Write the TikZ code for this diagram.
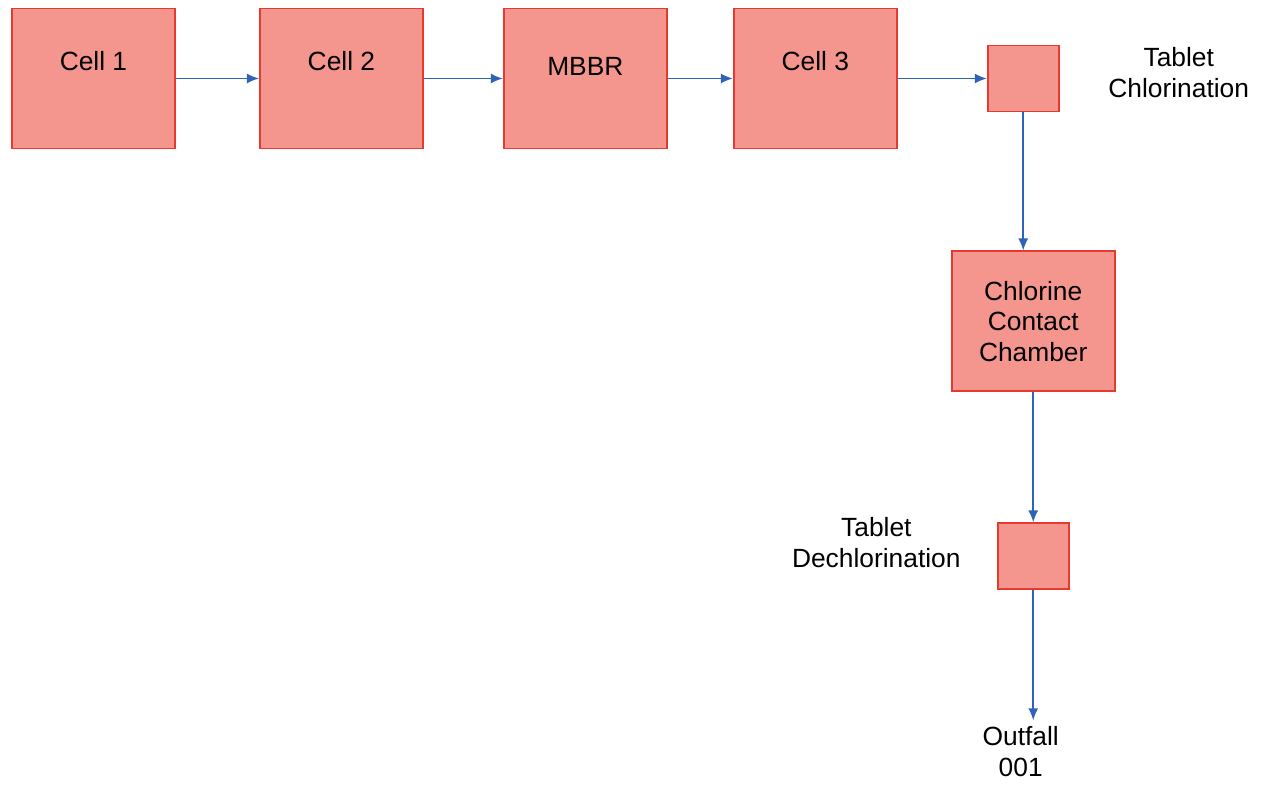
\documentclass[tikz,border=0pt]{standalone}
\usepackage{fontspec}
\setmainfont{Liberation Sans}
\usetikzlibrary{positioning,arrows.meta}
\definecolor{boxfill}{RGB}{245,150,142}
\definecolor{boxline}{RGB}{230,58,48}
\definecolor{flowblue}{RGB}{47,99,184}

\begin{document}
\begin{tikzpicture}[every node/.style={font=\fontsize{15}{17.5}\selectfont, align=center},
			unit/.style={draw=boxline, fill=boxfill, line width=1.1pt, minimum width=3.26cm, minimum height=2.8cm},
			cell/.style={unit, text height=0.38cm, text depth=0.7cm},
			tablet/.style={draw=boxline, fill=boxfill, line width=1.1pt, minimum width=1.42cm, minimum height=1.32cm},
			flow/.style={->, >={Latex[length=2.4mm,width=2mm]}, draw=flowblue, line width=0.9pt}]
			\useasboundingbox (0,0) rectangle (25.36,-15.74);
			\node [cell] (cell1) at (1.87,-1.57) {Cell 1};
			\node [cell, right=1.66cm of cell1] (cell2) {Cell 2};
			\node [cell, right=1.58cm of cell2, text depth=0.5cm] (mbbr) {MBBR};
			\node [cell, right=1.3cm of mbbr] (cell3) {Cell 3};
			\node [tablet, right=1.78cm of cell3] (tab1) {};
			\node [right=0.85cm of tab1, yshift=0.12cm] (chlor) {Tablet \\ Chlorination};
			\node [unit, below=2.76cm of tab1, xshift=0.2cm] (ccc) {Chlorine \\ Contact \\ Chamber};
			\node [tablet, below=2.6cm of ccc] (tab2) {};
			\node [left=0.6cm of tab2, yshift=0.28cm] (dechlor) {Tablet \\ Dechlorination};
			\node [below=2.6cm of tab2, xshift=-0.25cm] (outfall) {Outfall \\ 001};
			\draw [flow] (cell1) -- (cell2);
			\draw [flow] (cell2) -- (mbbr);
			\draw [flow] (mbbr) -- (cell3);
			\draw [flow] (cell3) -- (tab1);
			\draw [flow] (tab1) -- (tab1 |- ccc.north);
			\draw [flow] (ccc) -- (tab2);
			\draw [flow] (tab2) -- (tab2 |- outfall.north);
		\end{tikzpicture}
\end{document}
